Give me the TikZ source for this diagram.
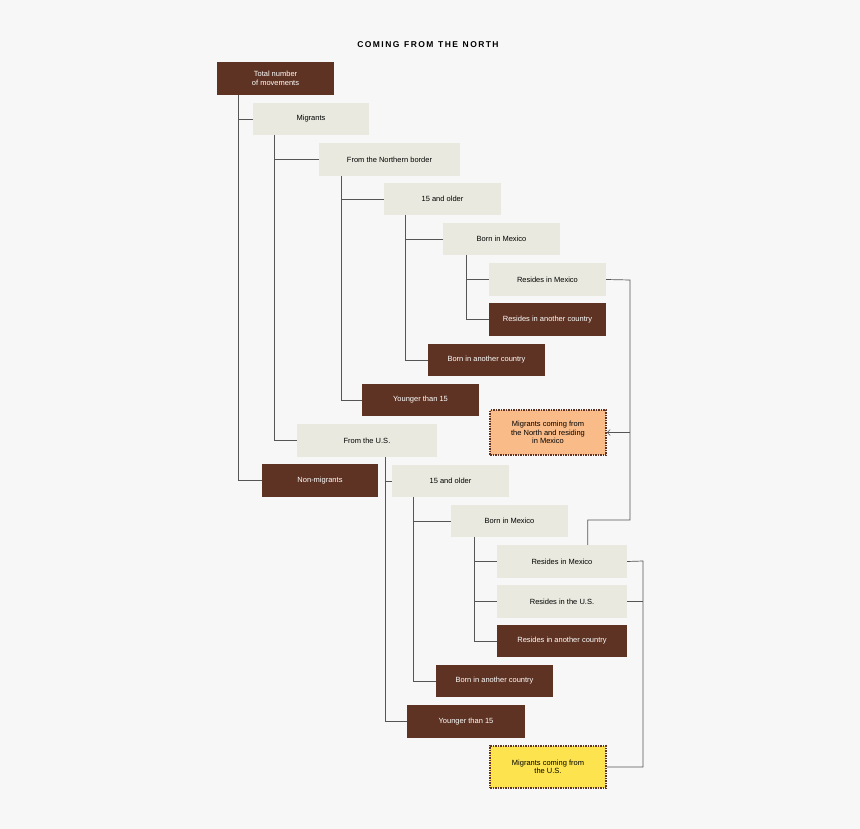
\documentclass[tikz,border=0pt]{standalone}
\usepackage{fontspec}
\setmainfont{Liberation Sans}
\usetikzlibrary{calc,arrows.meta}
\definecolor{bgc}{HTML}{F7F7F7}
\definecolor{beige}{HTML}{E9E9DF}
\definecolor{brownc}{HTML}{5E3323}
\definecolor{orangec}{HTML}{F9BB88}
\definecolor{yellowc}{HTML}{FDE44E}
\definecolor{linec}{HTML}{555555}
\newcommand{\bx}[7]{\node[#6, minimum width={#4-#2}, minimum height={#5-#3}] (#1) at ({(#2+#4)/2},{(#3+#5)/2}) {#7};}
\begin{document}
\begin{tikzpicture}[x=1pt,y=-1pt,
  every node/.style={inner sep=1pt, font=\fontsize{7.5}{8.5}\selectfont, align=center},
  lb/.style={fill=beige, text=black},
  db/.style={fill=brownc, text=white},
  ob/.style={fill=orangec, text=black, draw=brownc, densely dotted, line width=1.5pt},
  yb/.style={fill=yellowc, text=black, draw=brownc, densely dotted, line width=1.5pt},
  ln/.style={draw=linec, line width=0.7pt}]
\fill[bgc] (0,0) rectangle (860,829);
\node[font=\bfseries\fontsize{8.5}{10}\selectfont] (title) at (428,45) {C\,O\,M\,I\,N\,G\ \ F\,R\,O\,M\ \ T\,H\,E\ \ N\,O\,R\,T\,H};
\bx{total}{217}{62}{334}{95}{db}{Total number\\of movements}
\bx{mig}{253}{103}{369}{135}{lb}{Migrants}
\bx{north}{319}{143}{460}{176}{lb}{From the Northern border}
\bx{na}{384}{183}{501}{215}{lb}{15 and older}
\bx{nbm}{443}{223}{560}{255}{lb}{Born in Mexico}
\bx{nrm}{489}{263}{606}{296}{lb}{Resides in Mexico}
\bx{nro}{489}{303}{606}{336}{db}{Resides in another country}
\bx{nbo}{428}{344}{545}{376}{db}{Born in another country}
\bx{ny}{362}{384}{479}{416}{db}{Younger than 15}
\bx{orng}{490}{410}{606}{455}{ob}{Migrants coming from\\the North and residing\\in Mexico}
\bx{us}{297}{424}{437}{457}{lb}{From the U.S.}
\bx{nonm}{262}{464}{378}{497}{db}{Non-migrants}
\bx{ua}{392}{465}{509}{497}{lb}{15 and older}
\bx{ubm}{451}{505}{568}{537}{lb}{Born in Mexico}
\bx{urm}{497}{545}{627}{578}{lb}{Resides in Mexico}
\bx{uru}{497}{585}{627}{618}{lb}{Resides in the U.S.}
\bx{uro}{497}{625}{627}{657}{db}{Resides in another country}
\bx{ubo}{436}{665}{553}{697}{db}{Born in another country}
\bx{uy}{407}{705}{525}{738}{db}{Younger than 15}
\bx{yel}{490}{746}{606}{788}{yb}{Migrants coming from\\the U.S.}
% tree connectors
\draw[ln] ([xshift=22]total.south west) |- (mig.west);
\draw[ln] ([xshift=22]total.south west) |- (nonm.west);
\draw[ln] ([xshift=22]mig.south west) |- (north.west);
\draw[ln] ([xshift=22]mig.south west) |- (us.west);
\draw[ln] ([xshift=23]north.south west) |- (na.west);
\draw[ln] ([xshift=23]north.south west) |- (ny.west);
\draw[ln] ([xshift=22]na.south west) |- (nbm.west);
\draw[ln] ([xshift=22]na.south west) |- (nbo.west);
\draw[ln] ([xshift=24]nbm.south west) |- (nrm.west);
\draw[ln] ([xshift=24]nbm.south west) |- (nro.west);
\draw[ln] ([xshift=89]us.south west) |- (ua.west);
\draw[ln] ([xshift=89]us.south west) |- (uy.west);
\draw[ln] ([xshift=22]ua.south west) |- (ubm.west);
\draw[ln] ([xshift=22]ua.south west) |- (ubo.west);
\draw[ln] ([xshift=24]ubm.south west) |- (urm.west);
\draw[ln] ([xshift=24]ubm.south west) |- (uru.west);
\draw[ln] ([xshift=24]ubm.south west) |- (uro.west);
% summary connectors
\coordinate (ra) at (630,280);
\coordinate (rb) at (630,520);
\draw[ln] (nrm.east) -- (ra) -- (rb) -| ([xshift=91]urm.north west);
\draw[ln,-{Straight Barb[length=3pt]}] (ra |- orng.east) -- (orng.east);
\coordinate (rc) at (643,561);
\coordinate (rd) at (643,767);
\draw[ln] (urm.east) -- (rc) -- (rd) -- (yel.east);
\draw[ln] (uru.east) -- (uru.east -| rc);
\end{tikzpicture}
\end{document}
